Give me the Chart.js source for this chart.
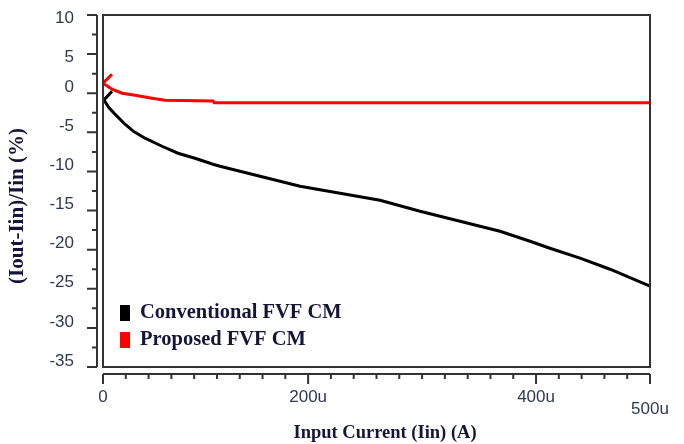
<!DOCTYPE html>
<html>
<head>
<meta charset="utf-8">
<script src="https://cdn.jsdelivr.net/npm/chart.js@4/dist/chart.umd.min.js"></script>
<style>
  html, body { margin: 0; padding: 0; background: #fff; }
  #wrap { width: 684px; height: 444px; }
</style>
</head>
<body>
<div id="wrap"><canvas id="c" width="684" height="444"></canvas></div>
<script>
// Input current sweep in µA; error (Iout-Iin)/Iin in %
const conventionalX = [27.9, 20.9, 25.0, 30.5, 39.3, 47.0, 56.9, 71.8, 85.8, 100.7, 116.5, 122.7, 140.2, 157.8, 192.9, 228.0, 263.1, 298.2, 333.3, 350.8, 368.4, 394.7, 412.2, 438.6, 464.9, 500];
const conventionalY = [0.26, -0.86, -1.8, -2.68, -3.96, -4.9, -5.75, -6.78, -7.67, -8.31, -9.08, -9.33, -9.97, -10.61, -11.89, -12.78, -13.68, -15.09, -16.36, -17.0, -17.64, -18.92, -19.82, -21.09, -22.5, -24.67];

const proposedX = [27.9, 20.0, 27.9, 36.7, 48.1, 63.0, 74.4, 116.5, 117.5, 500];
const proposedY = [2.43, 1.28, 0.51, 0.0, -0.26, -0.64, -0.90, -1.0, -1.22, -1.22];

// Axis tick labels (x in µA)
const xTickLabels = { 20: '0', 200: '200u', 400: '400u', 500: ['', '500u'] };
const yTicks = [10, 5, 0, -5, -10, -15, -20, -25, -30, -35];
const yLowered = [10, 5];

const seriesNames = ['Conventional FVF CM', 'Proposed FVF CM'];
const seriesColors = ['#000000', '#ff0000'];
const xTitle = 'Input Current (Iin) (A)';
const yTitle = '(Iout-Iin)/Iin (%)';

const toPoints = (xs, ys) => xs.map((x, i) => ({ x, y: ys[i] }));

const axisColor = '#333333';
const labelColor = '#2e3852';
const titleColor = '#15153a';
const tickFamily = '"Liberation Sans Narrow", "Liberation Sans"';

const frame = {
  id: 'frame',
  afterDraw(chart) {
    const { ctx, chartArea: a, scales: { x, y } } = chart;
    ctx.save();
    ctx.strokeStyle = axisColor;
    ctx.lineWidth = 2;
    ctx.strokeRect(a.left, a.top, a.right - a.left, a.bottom - a.top);

    // detached y axis
    const ax = a.left - 6;
    ctx.beginPath();
    ctx.moveTo(ax, a.top); ctx.lineTo(ax, a.bottom);
    y.ticks.forEach((t, i) => {
      const py = y.getPixelForValue(t.value);
      ctx.moveTo(ax, py); ctx.lineTo(ax - 10, py);
      if (i < y.ticks.length - 1) {
        const pm = y.getPixelForValue((t.value + y.ticks[i + 1].value) / 2);
        ctx.moveTo(ax, pm); ctx.lineTo(ax - 5, pm);
      }
    });
    ctx.stroke();

    // detached x axis
    const ay = a.bottom + 7;
    ctx.beginPath();
    ctx.moveTo(a.left, ay); ctx.lineTo(a.right, ay);
    x.ticks.forEach(t => {
      const px = x.getPixelForValue(t.value);
      const major = xTickLabels[t.value] !== undefined;
      ctx.moveTo(px, ay); ctx.lineTo(px, ay + (major ? 10 : 5));
    });
    ctx.stroke();

    // axis titles
    ctx.fillStyle = titleColor;
    ctx.textAlign = 'center';
    ctx.textBaseline = 'middle';
    ctx.font = 'bold 18.5px "Liberation Serif"';
    ctx.fillText(xTitle, 385, 433);
    ctx.save();
    ctx.translate(18, 206);
    ctx.rotate(-Math.PI / 2);
    ctx.font = 'bold 21px "Liberation Serif"';
    ctx.fillText(yTitle, 0, 0);
    ctx.restore();

    // legend in the lower-left of the plot
    ctx.font = 'bold 20.5px "Liberation Serif"';
    ctx.textBaseline = 'middle';
    ctx.textAlign = 'left';
    chart.data.datasets.forEach((ds, i) => {
      const cy = 313 + i * 27;
      ctx.fillStyle = ds.borderColor;
      ctx.fillRect(120, cy - 8, 10, 16);
      ctx.fillStyle = titleColor;
      ctx.fillText(ds.label, 140, cy);
    });
    ctx.restore();
  }
};

new Chart(document.getElementById('c'), {
  type: 'line',
  data: {
    datasets: [
      { label: seriesNames[0], data: toPoints(conventionalX, conventionalY), borderColor: seriesColors[0], borderWidth: 3, pointRadius: 0, tension: 0 },
      { label: seriesNames[1], data: toPoints(proposedX, proposedY), borderColor: seriesColors[1], borderWidth: 3, pointRadius: 0, tension: 0 }
    ]
  },
  options: {
    responsive: false,
    animation: false,
    layout: { padding: { top: 15, right: 34, left: 0, bottom: 0 } },
    plugins: { legend: { display: false }, tooltip: { enabled: false } },
    scales: {
      x: {
        type: 'linear',
        min: 20, max: 500,
        afterFit: s => { s.height = 77; s.paddingLeft = 0; s.paddingRight = 0; },
        afterBuildTicks: s => { s.ticks = []; for (let v = 20; v <= 500; v += 20) s.ticks.push({ value: v }); },
        grid: { display: false, drawTicks: false },
        border: { display: false },
        ticks: {
          autoSkip: false,
          maxRotation: 0,
          padding: 24,
          color: labelColor,
          font: { family: tickFamily, size: 17, lineHeight: 0.7 },
          callback: v => (xTickLabels[v] !== undefined ? xTickLabels[v] : '')
        },
        title: { display: false }
      },
      y: {
        min: -35, max: 10,
        afterFit: s => { s.width = 103; s.paddingTop = 0; s.paddingBottom = 0; },
        afterBuildTicks: s => { s.ticks = yTicks.map(v => ({ value: v })); },
        grid: { display: false, drawTicks: false },
        border: { display: false },
        ticks: {
          autoSkip: false,
          padding: 29,
          labelOffset: -6,
          color: labelColor,
          font: { family: tickFamily, size: 17, lineHeight: 1.1 },
          callback: v => (yLowered.includes(v) ? ['', String(v)] : String(v))
        },
        title: { display: false }
      }
    }
  },
  plugins: [frame]
});
</script>
</body>
</html>
